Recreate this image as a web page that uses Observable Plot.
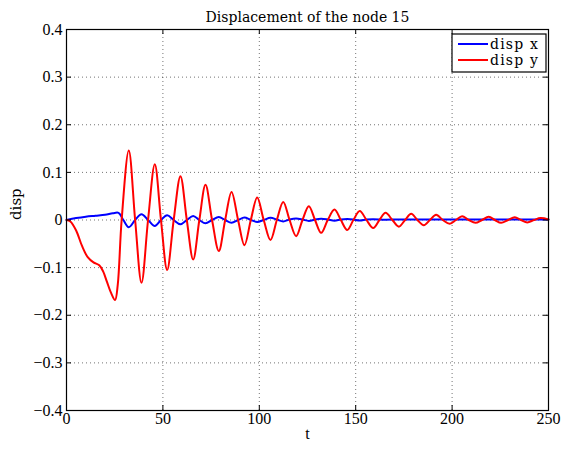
<!DOCTYPE html>
<html>
<head>
<meta charset="utf-8">
<script src="https://cdn.jsdelivr.net/npm/d3@7"></script>
<script src="https://cdn.jsdelivr.net/npm/@observablehq/plot@0.6"></script>
<style>
body { margin: 0; background: #fff; }
</style>
</head>
<body>
<div id="chart"></div>
<script>
const title = "Displacement of the node 15";
const xTicks = [0, 50, 100, 150, 200, 250];
const yTicks = [-0.4, -0.3, -0.2, -0.1, 0, 0.1, 0.2, 0.3, 0.4];
const seriesNames = ["disp x", "disp y"];

// disp y (red)
const tRed = [0, 2, 5, 8, 11, 14, 17, 19, 21, 23, 25.2, 26.6, 28.6, 32.3, 35.6, 38.9, 42.3, 45.8, 49, 52.2, 55.6, 59.1, 62.4, 65.7, 68.9, 72.1, 75.5, 79, 82.3, 85.6, 89, 92.3, 95.6, 98.9, 102.3, 105.8, 109.1, 112.4, 115.7, 119.1, 122.4, 125.7, 128.9, 132.1, 135.5, 139, 142.3, 145.6, 148.8, 152.1, 155.6, 159.1, 162.3, 165.5, 169, 172.4, 175.6, 178.8, 182, 185.3, 188.5, 191.7, 195.2, 198.8, 202, 205.2, 208.6, 212.1, 215.5, 219, 222.2, 225.4, 229, 232.5, 235.7, 239, 242.5, 245.9, 250];
const yRed = [0, -0.003, -0.022, -0.054, -0.078, -0.089, -0.095, -0.108, -0.130, -0.152, -0.168, -0.135, 0, 0.146, 0, -0.132, 0, 0.117, 0, -0.105, 0, 0.092, 0, -0.083, 0, 0.074, 0, -0.065, 0, 0.059, 0, -0.053, 0, 0.047, 0, -0.042, 0, 0.038, 0, -0.034, 0, 0.029, 0, -0.027, 0, 0.022, 0, -0.021, 0, 0.019, 0, -0.017, 0, 0.015, 0, -0.014, 0, 0.013, 0, -0.011, 0, 0.011, 0, -0.008, 0, 0.008, 0, -0.006, 0, 0.007, 0, -0.006, 0, 0.006, 0, -0.005, 0, 0.004, 0.001];

// disp x (blue)
const tBlue = [0, 5, 10, 15, 20, 24, 27, 29.5, 32.3, 35.6, 38.9, 42.3, 45.8, 49, 52.2, 55.6, 59.1, 62.4, 65.7, 68.9, 72.1, 75.5, 79, 82.3, 85.6, 89, 92.3, 95.6, 98.9, 102.3, 105.8, 109.1, 112.4, 115.7, 119.1, 122.4, 125.7, 128.9, 132.1, 135.5, 139, 142.3, 145.6, 148.8, 152.1, 155.6, 159.1, 165.5, 172.4, 185, 200, 215, 230, 250];
const yBlue = [0, 0.004, 0.007, 0.009, 0.011, 0.014, 0.015, 0, -0.015, 0, 0.012, 0, -0.0126, 0, 0.0098, 0, -0.009, 0, 0.0084, 0, -0.007, 0, 0.0063, 0, -0.0056, 0, 0.005, 0, -0.004, 0, 0.0045, 0.001, -0.003, 0.001, 0.003, 0.001, -0.002, 0.001, 0.0025, 0.001, -0.0015, 0.001, 0.002, 0.001, -0.001, 0.001, 0.0015, 0.0005, 0.0012, 0.001, 0.0012, 0.001, 0.001, 0.001];

const red = tRed.map((t, i) => ({t, v: yRed[i]}));
const blue = tBlue.map((t, i) => ({t, v: yBlue[i]}));

const W = 572, H = 450, mL = 66, mR = 24, mT = 29, mB = 40;
const fw = W - mL - mR, fh = H - mT - mB;
const fmtY = d => d === 0 ? "0" : d3.format(".1f")(d).replace("-", "\u2212");
const grid = {stroke: "#000", strokeOpacity: 0.55, strokeDasharray: "1,3", strokeWidth: 1};

const plot = Plot.plot({
  width: W, height: H,
  marginLeft: mL, marginRight: mR, marginTop: mT, marginBottom: mB,
  style: {fontFamily: "Liberation Serif", fontSize: "16px", background: "#fff", color: "#000"},
  x: {domain: [0, 250], label: null},
  y: {domain: [-0.4, 0.4], label: null},
  marks: [
    Plot.gridX(xTicks.slice(1, -1), grid),
    Plot.gridY(yTicks.slice(1, -1), grid),
    Plot.line(blue, {x: "t", y: "v", stroke: "#0000ff", strokeWidth: 2, curve: "catmull-rom"}),
    Plot.line(red, {x: "t", y: "v", stroke: "#ff0000", strokeWidth: 2, curve: "catmull-rom"}),
    Plot.tickX(xTicks, {x: d => d, insetTop: fh - 5, stroke: "#000"}),
    Plot.tickX(xTicks, {x: d => d, insetBottom: fh - 5, stroke: "#000"}),
    Plot.tickY(yTicks, {y: d => d, insetRight: fw - 5, stroke: "#000"}),
    Plot.tickY(yTicks, {y: d => d, insetLeft: fw - 5, stroke: "#000"}),
    Plot.frame({stroke: "#000", strokeWidth: 1.2}),
    Plot.axisX(xTicks, {tickSize: 0, tickPadding: 2, tickFormat: d => String(d), label: null}),
    Plot.axisY(yTicks, {tickSize: 0, tickPadding: 4, tickFormat: fmtY, label: null}),
    Plot.text(["t"], {frameAnchor: "bottom", dy: 28, fontSize: 16}),
    Plot.text(["disp"], {frameAnchor: "left", dx: -50, rotate: -90, fontSize: 15, fontFamily: "DejaVu Serif"}),
    Plot.text([title], {frameAnchor: "top", dy: -17, fontSize: 14, fontFamily: "DejaVu Serif", letterSpacing: "0.6px"})
  ]
});

// legend
const svg = d3.select(plot);
const lg = svg.append("g").attr("font-family", "DejaVu Serif").attr("font-size", 14).attr("text-anchor", "start");
lg.append("rect").attr("x", 452).attr("y", 34).attr("width", 94).attr("height", 38)
  .attr("fill", "#fff").attr("stroke", "#000").attr("stroke-width", 1.2);
const rows = [{name: seriesNames[0], color: "#0000ff", y: 44}, {name: seriesNames[1], color: "#ff0000", y: 60}];
rows.forEach(r => {
  lg.append("line").attr("x1", 458).attr("x2", 488).attr("y1", r.y).attr("y2", r.y)
    .attr("stroke", r.color).attr("stroke-width", 2);
  lg.append("text").attr("x", 490).attr("y", r.y + 4.5).attr("text-anchor", "start")
    .attr("letter-spacing", "1.2px").text(r.name);
});

document.getElementById("chart").appendChild(plot);
</script>
</body>
</html>
